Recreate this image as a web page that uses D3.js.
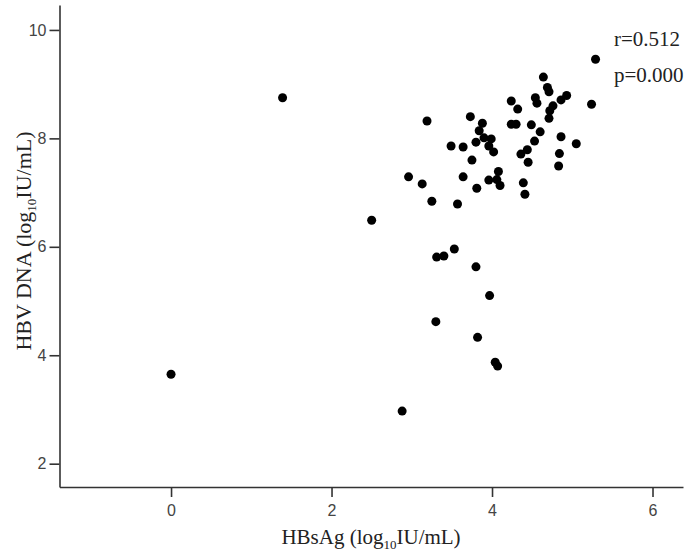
<!DOCTYPE html>
<html>
<head>
<meta charset="utf-8">
<script src="https://cdn.jsdelivr.net/npm/d3@7"></script>
<style>
    body { margin: 0; background: #fff; }
    svg { display: block; }
</style>
</head>
<body>
<svg id="chart"></svg>
<script>
// values
const hbsag = [
    0.0, 1.39, 2.50, 2.88, 3.31, 3.40, 3.53, 3.80, 3.30, 3.82, 3.97, 4.04, 4.07,
    5.29, 5.24, 4.64, 4.69, 4.71, 4.93, 4.86, 4.54, 4.56, 4.24, 4.76, 4.32, 4.72,
    4.71, 3.73, 3.19, 3.88, 4.24, 4.30, 4.49, 3.84, 4.60, 3.90, 3.99, 4.86, 3.80,
    4.53, 3.49, 3.64, 3.96, 4.02, 5.05, 4.44, 4.36, 4.84, 4.45, 3.75, 4.83, 2.96,
    3.13, 3.64, 4.08, 3.96, 4.06, 4.10, 3.81, 4.39, 4.41, 3.25, 3.57,
];
const hbvDna = [
    3.65, 8.75, 6.49, 2.97, 5.81, 5.83, 5.96, 5.63, 4.62, 4.33, 5.10, 3.87, 3.80,
    9.46, 8.63, 9.13, 8.94, 8.86, 8.79, 8.71, 8.75, 8.65, 8.69, 8.60, 8.54, 8.51,
    8.37, 8.40, 8.32, 8.28, 8.26, 8.26, 8.25, 8.14, 8.12, 8.01, 7.99, 8.03, 7.93,
    7.95, 7.86, 7.84, 7.86, 7.75, 7.90, 7.79, 7.71, 7.72, 7.56, 7.60, 7.49, 7.29,
    7.16, 7.29, 7.39, 7.23, 7.24, 7.13, 7.08, 7.18, 6.97, 6.84, 6.79,
];
const xTicks = [0, 2, 4, 6];
const yTicks = [2, 4, 6, 8, 10];
const stats = ['r=0.512', 'p=0.000'];

const width = 685;
const height = 551;

const svg = d3.select('#chart')
    .attr('width', width)
    .attr('height', height);

const xScale = d3.scaleLinear().domain([-1.39, 6.38]).range([59.5, 683]);
const yScale = d3.scaleLinear().domain([1.57, 10.46]).range([487, 5]);

const points = hbsag.map((x, i) => ({ x: x, y: hbvDna[i] }));

const xAxis = svg.append('g')
    .attr('transform', `translate(0, ${yScale.range()[0]})`)
    .call(d3.axisBottom(xScale)
        .tickValues(xTicks)
        .tickSizeInner(10)
        .tickSizeOuter(0)
        .tickPadding(8));

const yAxis = svg.append('g')
    .attr('transform', `translate(${xScale.range()[0]}, 0)`)
    .call(d3.axisLeft(yScale)
        .tickValues(yTicks)
        .tickSizeInner(10)
        .tickSizeOuter(0)
        .tickPadding(3));

[xAxis, yAxis].forEach(axis => {
    axis.select('.domain').attr('stroke', '#333').attr('stroke-width', 1.6);
    axis.selectAll('.tick line').attr('stroke', '#333').attr('stroke-width', 1.6);
    axis.selectAll('.tick text')
        .attr('fill', '#444')
        .style('font-family', '"Liberation Sans", Arial, sans-serif')
        .style('font-size', '16px');
});

svg.append('g')
    .selectAll('circle')
    .data(points)
    .join('circle')
    .attr('cx', d => xScale(d.x))
    .attr('cy', d => yScale(d.y))
    .attr('r', 4.5)
    .attr('fill', '#000');

const serif = '"Liberation Serif", "Times New Roman", serif';

// x axis title with subscript
const xTitle = svg.append('text')
    .attr('x', 371)
    .attr('y', 544)
    .attr('text-anchor', 'middle')
    .attr('fill', '#222')
    .style('font-family', serif)
    .style('font-size', '21px');
xTitle.append('tspan').text('HBsAg (log');
xTitle.append('tspan').attr('dy', 5).style('font-size', '13px').text('10');
xTitle.append('tspan').attr('dy', -5).text('IU/mL)');

// y axis title
const yTitle = svg.append('text')
    .attr('transform', 'translate(31, 241) rotate(-90)')
    .attr('text-anchor', 'middle')
    .attr('fill', '#222')
    .style('font-family', serif)
    .style('font-size', '22px');
yTitle.append('tspan').text('HBV DNA (log');
yTitle.append('tspan').attr('dy', 5).style('font-size', '13px').text('10');
yTitle.append('tspan').attr('dy', -5).text('IU/mL)');

svg.append('g')
    .selectAll('text')
    .data(stats)
    .join('text')
    .attr('x', 614)
    .attr('y', (d, i) => 46 + i * 35.5)
    .attr('fill', '#222')
    .style('font-family', serif)
    .style('font-size', '21px')
    .text(d => d);
</script>
</body>
</html>
